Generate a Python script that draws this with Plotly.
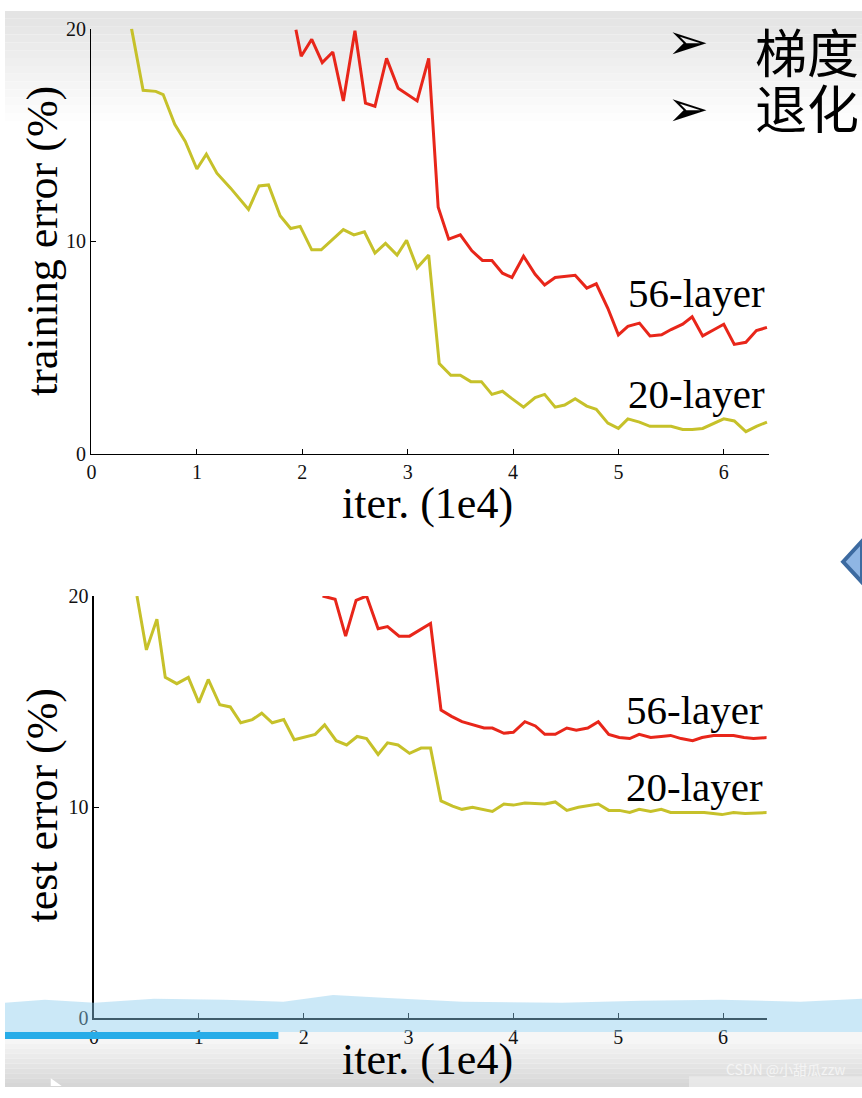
import plotly.graph_objects as go

# ---------------- data ----------------
train20_x = [0.38, 0.49, 0.61, 0.68, 0.79, 0.89, 1.0, 1.09, 1.19, 1.32, 1.49, 1.59, 1.68, 1.79, 1.89, 1.98,
             2.09, 2.18, 2.39, 2.49, 2.59, 2.69, 2.79, 2.90, 2.99, 3.09, 3.20, 3.30, 3.41, 3.50, 3.60, 3.70,
             3.80, 3.90, 3.99, 4.10, 4.21, 4.30, 4.40, 4.49, 4.59, 4.70, 4.79, 4.90, 5.0, 5.09, 5.20, 5.30,
             5.41, 5.50, 5.61, 5.70, 5.80, 5.91, 6.0, 6.10, 6.21, 6.31, 6.41]
train20_y = [20.0, 17.1, 17.05, 16.9, 15.5, 14.7, 13.4, 14.1, 13.2, 12.5, 11.5, 12.6, 12.65, 11.2, 10.6, 10.7,
             9.6, 9.6, 10.55, 10.3, 10.45, 9.45, 9.9, 9.35, 10.05, 8.75, 9.35, 4.25, 3.7, 3.7, 3.4, 3.4,
             2.8, 2.95, 2.6, 2.2, 2.65, 2.8, 2.2, 2.3, 2.6, 2.25, 2.1, 1.45, 1.2, 1.65, 1.5, 1.3,
             1.3, 1.3, 1.15, 1.15, 1.2, 1.45, 1.65, 1.55, 1.05, 1.3, 1.5]

train56_x = [1.94, 1.99, 2.09, 2.19, 2.29, 2.39, 2.50, 2.60, 2.69, 2.80, 2.91, 3.09, 3.20, 3.29, 3.39, 3.50,
             3.61, 3.71, 3.80, 3.90, 3.99, 4.10, 4.21, 4.30, 4.40, 4.59, 4.70, 4.79, 4.90, 5.0, 5.09, 5.20,
             5.30, 5.41, 5.50, 5.61, 5.70, 5.80, 5.91, 6.0, 6.10, 6.21, 6.31, 6.41]
train56_y = [19.95, 18.7, 19.5, 18.4, 18.9, 16.6, 19.9, 16.5, 16.35, 18.6, 17.2, 16.6, 18.6, 11.6, 10.1, 10.3,
             9.55, 9.1, 9.1, 8.5, 8.3, 9.3, 8.45, 7.95, 8.3, 8.4, 7.8, 8.0, 6.85, 5.6, 6.0, 6.15,
             5.55, 5.6, 5.85, 6.1, 6.45, 5.55, 5.85, 6.1, 5.15, 5.25, 5.8, 5.95]

test20_x = [0.41, 0.50, 0.60, 0.68, 0.79, 0.90, 1.0, 1.09, 1.20, 1.30, 1.40, 1.51, 1.60, 1.70, 1.81, 1.91,
            2.11, 2.20, 2.31, 2.41, 2.51, 2.60, 2.71, 2.80, 2.90, 3.01, 3.12, 3.21, 3.31, 3.42, 3.51, 3.61,
            3.80, 3.91, 4.0, 4.11, 4.30, 4.40, 4.51, 4.62, 4.81, 4.91, 5.01, 5.11, 5.20, 5.31, 5.41, 5.50,
            5.69, 5.82, 5.99, 6.10, 6.21, 6.42]
test20_y = [20.0, 17.45, 18.9, 16.15, 15.85, 16.15, 14.95, 16.05, 14.85, 14.75, 14.0, 14.15, 14.45, 14.0, 14.15, 13.2,
            13.45, 13.9, 13.15, 12.95, 13.35, 13.25, 12.5, 13.05, 12.95, 12.55, 12.8, 12.8, 10.3, 10.05, 9.9, 10.0,
            9.8, 10.15, 10.1, 10.2, 10.15, 10.25, 9.85, 10.0, 10.15, 9.85, 9.85, 9.75, 9.9, 9.8, 9.9, 9.75,
            9.75, 9.75, 9.65, 9.75, 9.7, 9.75]

test56_x = [2.18, 2.30, 2.40, 2.50, 2.60, 2.71, 2.80, 2.91, 3.01, 3.21, 3.31, 3.41, 3.51, 3.72, 3.80, 3.91,
            4.0, 4.11, 4.21, 4.30, 4.40, 4.51, 4.60, 4.71, 4.81, 4.91, 5.01, 5.11, 5.20, 5.31, 5.41, 5.50,
            5.60, 5.71, 5.80, 5.91, 6.10, 6.20, 6.29, 6.42]
test56_y = [20.0, 19.85, 18.1, 19.8, 20.0, 18.45, 18.55, 18.1, 18.1, 18.7, 14.6, 14.3, 14.05, 13.75, 13.75, 13.5,
            13.55, 14.05, 13.85, 13.45, 13.45, 13.75, 13.65, 13.75, 14.05, 13.45, 13.3, 13.25, 13.45, 13.3, 13.35, 13.4,
            13.25, 13.15, 13.3, 13.4, 13.4, 13.3, 13.25, 13.3]

x_ticks = [0, 1, 2, 3, 4, 5, 6]
y_ticks = [0, 10, 20]
series_labels = ["56-layer", "20-layer"]

# ---------------- style ----------------
W, H = 862, 1098
YELLOW = "#c6c12a"
RED = "#e8261a"
SERIF = "Liberation Serif, Times New Roman, serif"


def px(x):
    return x / W


def py(y):
    return 1 - y / H


fig = go.Figure()

fig.add_trace(go.Scatter(x=train20_x, y=train20_y, mode="lines", line=dict(color=YELLOW, width=3),
                         xaxis="x", yaxis="y", showlegend=False, cliponaxis=False))
fig.add_trace(go.Scatter(x=train56_x, y=train56_y, mode="lines", line=dict(color=RED, width=3),
                         xaxis="x", yaxis="y", showlegend=False, cliponaxis=False))
fig.add_trace(go.Scatter(x=test20_x, y=test20_y, mode="lines", line=dict(color=YELLOW, width=3),
                         xaxis="x2", yaxis="y2", showlegend=False, cliponaxis=False))
fig.add_trace(go.Scatter(x=test56_x, y=test56_y, mode="lines", line=dict(color=RED, width=3),
                         xaxis="x2", yaxis="y2", showlegend=False, cliponaxis=False))

axis_common = dict(showgrid=False, zeroline=False, showline=True, linecolor="black", linewidth=1.5,
                   ticks="inside", ticklen=5, tickcolor="black", tickwidth=1, fixedrange=True,
                   tickfont=dict(family=SERIF, size=20, color="#111"))

fig.update_layout(
    width=W, height=H,
    margin=dict(l=0, r=0, t=0, b=0),
    paper_bgcolor="white", plot_bgcolor="rgba(0,0,0,0)",
    dragmode=False,
    xaxis=dict(domain=[px(87), px(768)], range=[0, 6.425], tickvals=x_ticks, anchor="y", **axis_common),
    yaxis=dict(domain=[py(452), py(18)], range=[0, 20], tickvals=y_ticks, anchor="x", **axis_common),
    xaxis2=dict(domain=[px(89.5), px(766)], range=[0, 6.415], tickvals=x_ticks, anchor="y2", **axis_common),
    yaxis2=dict(domain=[py(1028), py(597)], range=[0, 20], tickvals=y_ticks, anchor="x2", **axis_common),
)

annotations = []
label_font = dict(family=SERIF, size=41, color="black")
annotations += [
    dict(x=6.41, y=7.55, xref="x", yref="y", text=series_labels[0], showarrow=False, xanchor="right", yanchor="middle", font=label_font),
    dict(x=6.41, y=2.8, xref="x", yref="y", text=series_labels[1], showarrow=False, xanchor="right", yanchor="middle", font=label_font),
    dict(x=6.40, y=14.6, xref="x2", yref="y2", text=series_labels[0], showarrow=False, xanchor="right", yanchor="middle", font=label_font),
    dict(x=6.40, y=10.95, xref="x2", yref="y2", text=series_labels[1], showarrow=False, xanchor="right", yanchor="middle", font=label_font),
]
title_font = dict(family=SERIF, size=44, color="black")
annotations += [
    dict(x=px(38), y=py(235), xref="paper", yref="paper", text="training error (%)", textangle=-90,
         showarrow=False, xanchor="center", yanchor="middle", font=title_font),
    dict(x=px(38), y=py(810), xref="paper", yref="paper", text="test error (%)", textangle=-90,
         showarrow=False, xanchor="center", yanchor="middle", font=title_font),
    dict(x=px(425), y=py(503), xref="paper", yref="paper", text="iter. (1e4)",
         showarrow=False, xanchor="center", yanchor="middle", font=title_font),
    dict(x=px(425), y=py(1097), xref="paper", yref="paper", text="iter. (1e4)",
         showarrow=False, xanchor="center", yanchor="bottom", font=title_font),
]
annotations += [
    dict(x=px(664), y=py(0), xref="paper", yref="paper", text="➢", showarrow=False,
         xanchor="left", yanchor="top", font=dict(family="DejaVu Sans", size=50, color="black")),
    dict(x=px(664), y=py(68), xref="paper", yref="paper", text="➢", showarrow=False,
         xanchor="left", yanchor="top", font=dict(family="DejaVu Sans", size=50, color="black")),
    dict(x=px(861), y=py(0), xref="paper", yref="paper", text="梯度", showarrow=False,
         xanchor="right", yanchor="top", font=dict(family="Noto Sans CJK SC", size=52, color="black")),
    dict(x=px(861), y=py(57), xref="paper", yref="paper", text="退化", showarrow=False,
         xanchor="right", yanchor="top", font=dict(family="Noto Sans CJK SC", size=52, color="black")),
    dict(x=px(848), y=py(1080), xref="paper", yref="paper", text="CSDN @小甜瓜zzw", showarrow=False,
         xanchor="right", yanchor="middle", font=dict(family="Noto Sans CJK SC", size=14, color="#f4f4f4")),
]

shapes = []
n = 14
for i in range(n):
    t = i / n
    g = int(228 + (255 - 228) * t)
    shapes.append(dict(type="rect", xref="paper", yref="paper", x0=0, x1=1,
                       y0=py(8 * (i + 1)), y1=py(8 * i), fillcolor=f"rgb({g},{g},{g})",
                       line=dict(width=0), layer="below"))
n2 = 10
for i in range(n2):
    t = i / (n2 - 1)
    g = int(246 - (246 - 214) * t)
    y0 = 1049 + i * 5
    shapes.append(dict(type="rect", xref="paper", yref="paper", x0=0, x1=1,
                       y0=max(0.0, py(y0 + 5)), y1=py(y0), fillcolor=f"rgb({g},{g},{g})",
                       line=dict(width=0), layer="below"))
shapes.append(dict(type="rect", xref="paper", yref="paper", x0=0, x1=1, y0=py(1049), y1=py(1042),
                   fillcolor="#f6f6f6", line=dict(width=0), layer="below"))
wave = [(0, 1012), (40, 1009), (90, 1012), (150, 1008), (220, 1009), (280, 1011), (330, 1004),
        (380, 1007), (460, 1011), (560, 1012), (640, 1010), (720, 1009), (800, 1011), (862, 1008)]
path = "M 0,{} ".format(py(1042))
for (wx, wy) in wave:
    path += "L {},{} ".format(px(wx), py(wy))
path += "L 1,{} Z".format(py(1042))
shapes.append(dict(type="path", xref="paper", yref="paper", path=path,
                   fillcolor="rgba(140,205,238,0.45)", line=dict(width=0), layer="above"))
shapes.append(dict(type="rect", xref="paper", yref="paper", x0=0, x1=px(275), y0=py(1049), y1=py(1042),
                   fillcolor="#27ace8", line=dict(width=0), layer="above"))
shapes.append(dict(type="rect", xref="paper", yref="paper", x0=px(688), x1=1, y0=0, y1=py(1087),
                   fillcolor="rgba(235,235,235,0.8)", line=dict(width=0), layer="above"))
shapes.append(dict(type="path", xref="paper", yref="paper",
                   path="M {},{} L {},{} L {},{} Z".format(px(46), py(1097), px(46), py(1089), px(57), py(1097)),
                   fillcolor="white", line=dict(width=0), layer="above"))
shapes.append(dict(type="path", xref="paper", yref="paper",
                   path="M {},{} L {},{} L {},{} Z".format(px(843), py(562), px(862), py(541), px(862), py(583)),
                   fillcolor="#8fb6e4", line=dict(color="#3c6aa0", width=4), layer="above"))

fig.update_layout(annotations=annotations, shapes=shapes)

post = ("document.body.style.margin='0';document.body.style.overflow='hidden';"
        "var gd=document.getElementById('{plot_id}');"
        "gd.style.position='fixed';gd.style.left='0px';gd.style.top='0px';")

fig.write_html("out.html", config={"displayModeBar": False, "staticPlot": True}, post_script=post)
